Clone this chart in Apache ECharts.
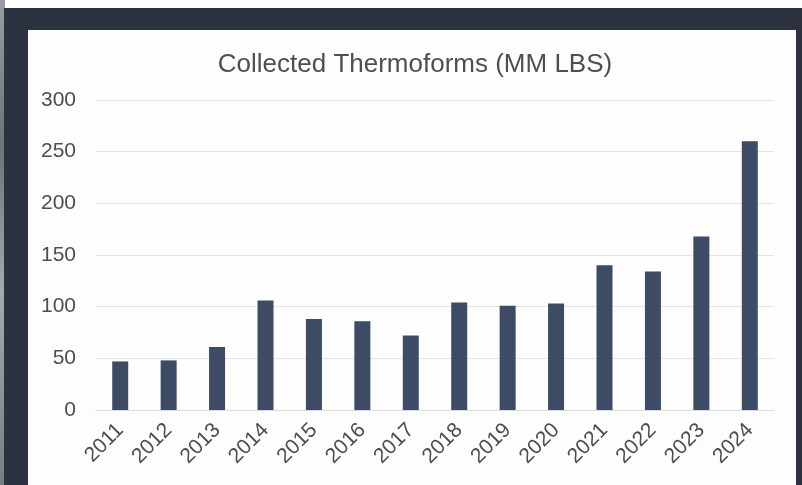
<!DOCTYPE html>
<html>
<head>
<meta charset="utf-8">
<script src="https://cdn.jsdelivr.net/npm/echarts@6/dist/echarts.min.js"></script>
<style>
  html, body { margin: 0; padding: 0; background: #ffffff; }
  #chart { width: 802px; height: 485px; }
</style>
</head>
<body>
<div id="chart"></div>
<script>
// Collected thermoforms per year, millions of pounds
const years = ['2011', '2012', '2013', '2014', '2015', '2016', '2017',
               '2018', '2019', '2020', '2021', '2022', '2023', '2024'];
const collected = [47, 48, 61, 106, 88, 86, 72, 104, 101, 103, 140, 134, 168, 260];
const yTicks = { min: 0, max: 300, step: 50 };
const titleText = 'Collected Thermoforms (MM LBS)';

const chart = echarts.init(document.getElementById('chart'), null, { renderer: 'canvas' });

chart.setOption({
  backgroundColor: '#ffffff',
  animation: false,
  graphic: [
    // textured strip on the far left
    { type: 'rect', z: -10, shape: { x: 0, y: 0, width: 5, height: 485 },
      style: { fill: new echarts.graphic.LinearGradient(0, 0, 0, 1, [
        { offset: 0, color: '#9a9ca3' }, { offset: 0.3, color: '#6f7279' },
        { offset: 0.6, color: '#a7a9b0' }, { offset: 1, color: '#7a7c84' }]) } },
    // dark frame
    { type: 'rect', z: -9, shape: { x: 4, y: 8, width: 798, height: 477 },
      style: { fill: '#2c3240' } },
    // white card
    { type: 'rect', z: -8, shape: { x: 28, y: 30, width: 768, height: 455 },
      style: { fill: '#fdfdfd' } }
  ],
  title: {
    text: titleText,
    left: 410,
    textAlign: 'center',
    top: 47,
    textStyle: {
      fontFamily: 'Liberation Sans',
      fontSize: 26,
      fontWeight: 'normal',
      color: '#4f4f4f'
    }
  },
  grid: { left: 96, right: 28, top: 100, bottom: 75, containLabel: false },
  xAxis: {
    type: 'category',
    data: years,
    axisLine: { show: true, lineStyle: { color: '#dcdcdc', width: 1 } },
    axisTick: { show: false },
    axisLabel: {
      rotate: 45,
      margin: 17,
      fontFamily: 'Liberation Sans',
      fontSize: 21,
      color: '#4d4d4d'
    }
  },
  yAxis: {
    type: 'value',
    min: yTicks.min,
    max: yTicks.max,
    interval: yTicks.step,
    axisLine: { show: false },
    axisTick: { show: false },
    splitLine: { lineStyle: { color: '#e4e4e4', width: 1 } },
    axisLabel: {
      margin: 20,
      fontFamily: 'Liberation Sans',
      fontSize: 21,
      color: '#4d4d4d'
    }
  },
  series: [{
    type: 'bar',
    data: collected,
    barWidth: 16,
    itemStyle: { color: '#3d4c64' }
  }]
});
</script>
</body>
</html>
